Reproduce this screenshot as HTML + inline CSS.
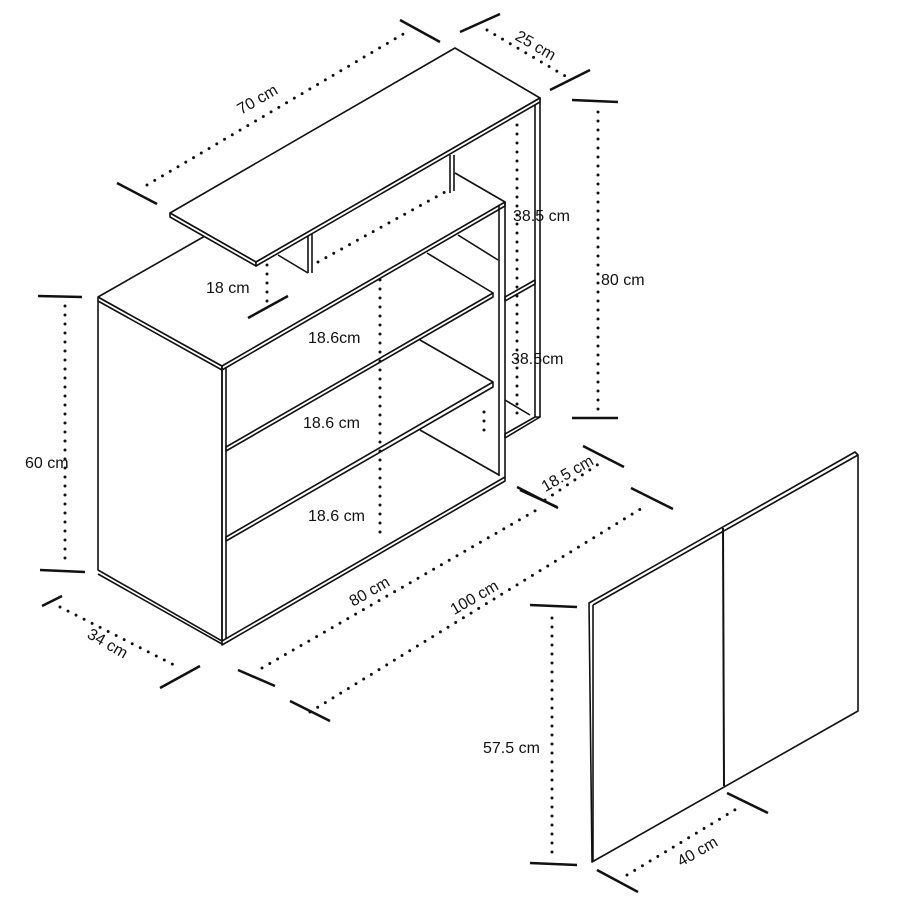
<!DOCTYPE html>
<html><head><meta charset="utf-8"><style>
html,body{margin:0;padding:0;background:#fff;}
svg{display:block;}
text{font-family:"Liberation Sans",sans-serif;font-size:16px;fill:#111;}
.l{stroke:#111;stroke-width:1.6;fill:none;stroke-linejoin:round;}
.f{stroke:#111;stroke-width:1.6;fill:#fff;stroke-linejoin:round;}
.t{stroke:#111;stroke-width:2.5;}
.d{stroke:#111;stroke-width:3;stroke-linecap:round;stroke-dasharray:0 9;fill:none;}
</style></head><body>
<svg width="900" height="900" viewBox="0 0 900 900">
<!-- upper back unit -->
<line class="l" x1="535" y1="100" x2="535" y2="420"/>
<line class="l" x1="540" y1="98" x2="540" y2="417"/>
<polygon class="f" points="505,297 535,280 535,284 505,301"/>
<polygon class="f" points="505,434 535,417 540,417 505,438"/>
<line class="l" x1="455" y1="173" x2="505" y2="202"/>
<line class="l" x1="458" y1="235" x2="498" y2="260"/>
<line class="l" x1="505" y1="400" x2="530" y2="415"/>
<!-- lower cabinet left side -->
<polygon class="f" points="98,297 222,366 222,641 98,570"/>
<line class="l" x1="98" y1="301" x2="222" y2="370"/>
<line class="l" x1="98" y1="574" x2="222" y2="644"/>
<!-- top surface -->
<polygon fill="#fff" stroke="none" points="98,297 203,237 505,202 222,366"/>
<line class="l" x1="98" y1="297" x2="205" y2="236"/>
<line class="l" x1="98" y1="297" x2="222" y2="366"/>
<polygon class="f" points="222,366 505,202 505,206 222,370"/>
<!-- front frame -->
<line class="l" x1="222" y1="366" x2="222" y2="641"/>
<line class="l" x1="226" y1="368" x2="226" y2="638"/>
<line class="l" x1="499" y1="206" x2="499" y2="476"/>
<line class="l" x1="505" y1="202" x2="505" y2="477"/>
<!-- inner depth lines -->
<line class="l" x1="427" y1="253" x2="493" y2="293"/>
<line class="l" x1="420" y1="340" x2="493" y2="382"/>
<line class="l" x1="420" y1="430" x2="499" y2="475"/>
<!-- shelves -->
<polygon class="f" points="226,447 493,293 493,297 226,451"/>
<polygon class="f" points="226,537 493,382 493,387 226,541"/>
<polygon class="f" points="222,641 505,477 505,481 222,645"/>
<!-- upper top board & legs -->
<line class="l" x1="450" y1="155" x2="450" y2="193"/>
<line class="l" x1="454" y1="155" x2="454" y2="191"/>
<line class="l" x1="308" y1="236" x2="308" y2="273"/>
<line class="l" x1="312" y1="234" x2="312" y2="273"/>
<line class="l" x1="278" y1="255" x2="308" y2="273"/>
<polygon class="f" points="170,213 455,48 540,98 256,262"/>
<polygon class="f" points="170,213 256,262 256,266 170,217"/>
<polygon class="f" points="256,262 540,98 540,102 256,266"/>
<!-- door -->
<polygon class="f" points="589,603 855,452 858,455 858,711 592,862"/>
<line class="l" x1="593" y1="605" x2="593" y2="862"/>
<line class="l" x1="593" y1="605" x2="858" y2="455"/>
<line x1="723" y1="528" x2="724" y2="786" stroke="#111" stroke-width="2"/>
<!-- dimension ticks -->
<g class="t">
<line x1="38" y1="296" x2="82" y2="297"/><line x1="40" y1="570" x2="85" y2="572"/>
<line x1="572" y1="100" x2="618" y2="102"/><line x1="572" y1="418" x2="618" y2="418"/>
<line x1="117" y1="183" x2="157" y2="204"/><line x1="400" y1="20" x2="440" y2="42"/>
<line x1="460" y1="32" x2="500" y2="14"/><line x1="550" y1="90" x2="590" y2="70"/>
<line x1="248" y1="318" x2="288" y2="296"/>
<line x1="42" y1="606" x2="62" y2="596"/><line x1="160" y1="688" x2="200" y2="666"/>
<line x1="238" y1="670" x2="275" y2="686"/><line x1="520" y1="490" x2="557" y2="507"/>
<line x1="290" y1="701" x2="330" y2="721"/><line x1="631" y1="488" x2="673" y2="509"/>
<line x1="517" y1="487" x2="558" y2="508"/><line x1="583" y1="446" x2="624" y2="467"/>
<line x1="530" y1="605" x2="577" y2="607"/><line x1="530" y1="863" x2="577" y2="865"/>
<line x1="597" y1="870" x2="638" y2="892"/><line x1="727" y1="793" x2="768" y2="813"/>
</g>
<!-- dotted lines -->
<g class="d">
<line x1="65" y1="306" x2="65" y2="562"/>
<line x1="598" y1="112" x2="598" y2="410"/>
<line x1="147" y1="185" x2="410" y2="30"/>
<line x1="487" y1="30" x2="572" y2="80"/>
<line x1="517" y1="125" x2="517" y2="420"/>
<line x1="267" y1="265" x2="267" y2="303"/>
<line x1="380" y1="280" x2="380" y2="540"/>
<line x1="318" y1="262" x2="445" y2="192"/>
<line x1="60" y1="607" x2="180" y2="668"/>
<line x1="262" y1="668" x2="540" y2="508"/>
<line x1="310" y1="712" x2="647" y2="505"/>
<line x1="545" y1="500" x2="600" y2="463"/>
<line x1="552" y1="618" x2="552" y2="858"/>
<line x1="627" y1="875" x2="738" y2="808"/>
<line x1="484" y1="412" x2="484" y2="432"/>
</g>
<!-- labels -->
<text x="260" y="104" transform="rotate(-30 260 104)" text-anchor="middle">70 cm</text>
<text x="533" y="50" transform="rotate(30 533 50)" text-anchor="middle">25 cm</text>
<text x="513" y="221">38.5 cm</text>
<text x="601" y="285">80 cm</text>
<text x="206" y="293">18 cm</text>
<text x="308" y="343">18.6cm</text>
<text x="511" y="364">38.5cm</text>
<text x="25" y="468">60 cm</text>
<text x="303" y="428">18.6 cm</text>
<text x="570" y="478" transform="rotate(-30 570 478)" text-anchor="middle">18.5 cm</text>
<text x="308" y="521">18.6 cm</text>
<text x="372" y="596" transform="rotate(-30 372 596)" text-anchor="middle">80 cm</text>
<text x="477" y="602" transform="rotate(-30 477 602)" text-anchor="middle">100 cm</text>
<text x="105" y="648" transform="rotate(30 105 648)" text-anchor="middle">34 cm</text>
<text x="483" y="753">57.5 cm</text>
<text x="700" y="856" transform="rotate(-30 700 856)" text-anchor="middle">40 cm</text>
</svg>
</body></html>
